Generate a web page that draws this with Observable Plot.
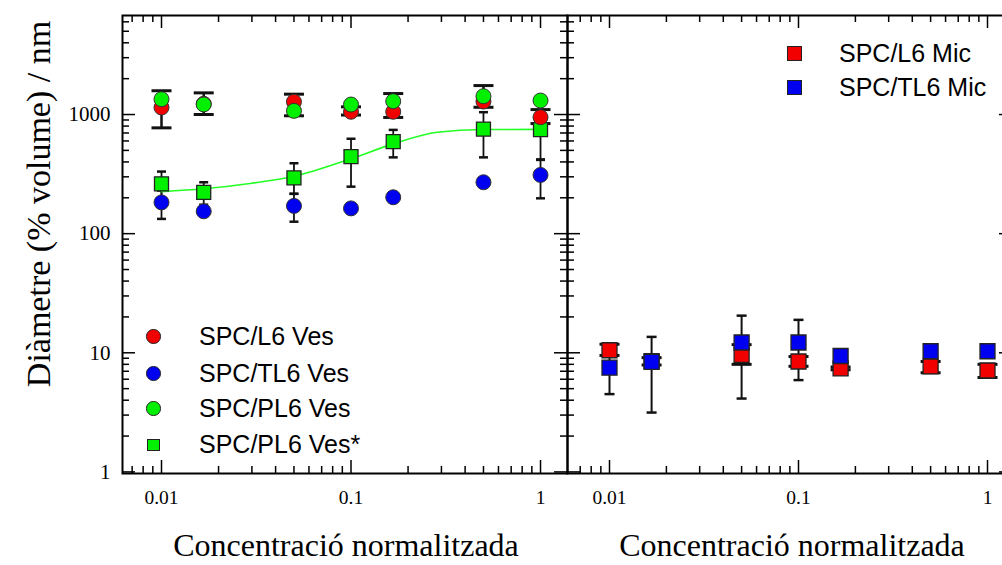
<!DOCTYPE html>
<html><head><meta charset="utf-8">
<script src="https://cdn.jsdelivr.net/npm/d3@7"></script>
<script src="https://cdn.jsdelivr.net/npm/@observablehq/plot@0.6"></script>
<style>
html,body{margin:0;padding:0;background:#fff;}
#wrap{position:relative;width:1002px;height:565px;overflow:hidden;}
#wrap svg{position:absolute;top:0;}
.leg{position:absolute;font-family:"Liberation Sans",Arial,sans-serif;font-size:25px;color:#000;white-space:nowrap;line-height:1;}
.sym{position:absolute;box-sizing:border-box;border:1.5px solid #222;}
.title{position:absolute;font-family:"Liberation Serif","Times New Roman",serif;color:#000;white-space:nowrap;line-height:1;}
</style></head><body><div id="wrap"></div>
<script>
// ---------- data ----------
const conc = [0.01, 0.0167, 0.05, 0.1, 0.167, 0.5, 1];

// left panel: vesicles
const l6VesY  = [1145, 1230, 1280, 1055, 1055, 1285, 950];
const l6VesLo = [773, null, 976, 990, 945, 1150, 840];
const l6VesHi = [1583, null, 1482, 1160, 1500, 1750, 1100];

const tl6VesY  = [183, 154, 171, 163, 202, 270, 311];
const tl6VesLo = [133, null, 126, null, null, null, 198];
const tl6VesHi = [230, null, 216, null, null, null, 420];

const pl6VesY  = [1345, 1215, 1074, 1213, 1294, 1425, 1311];
const pl6VesLo = [null, 1000, null, null, null, null, null];
const pl6VesHi = [null, 1520, null, null, null, null, null];

const pl6StarY  = [262, 222, 294, 444, 593, 755, 748];
const pl6StarLo = [190, 175, 216, 248, 437, 437, 416];
const pl6StarHi = [332, 270, 390, 626, 743, 1046, 1080];

const fitX = [0.01, 0.0167, 0.03, 0.05, 0.1, 0.167, 0.285, 0.5, 1];
const fitY = [225, 238, 265, 303, 425, 567, 710, 748, 750];

// right panel: micelles
const l6MicY  = [10.5, 8.5, 9.6, 8.45, 7.4, 7.7, 7.1];
const l6MicLo = [9.5, 7.9, 8.0, 7.7, 7.2, 6.8, 6.2];
const l6MicHi = [11.8, 9.1, 11.7, 9.3, 7.6, 8.45, 8.0];

const tl6MicY  = [7.5, 8.4, 12.2, 12.2, 9.4, 10.3, 10.3];
const tl6MicLo = [4.5, 3.15, 4.13, 5.9, null, null, null];
const tl6MicHi = [10.4, 13.6, 20.5, 18.9, null, null, null];

// ticks
const yMajor = [1, 10, 100, 1000];
const yMinor = [2,3,4,5,6,7,8,9,20,30,40,50,60,70,80,90,200,300,400,500,600,700,800,900,2000,3000,4000,5000,6000];
const xMajor = [0.01, 0.1, 1];
const xMinor = [0.007,0.008,0.009,0.02,0.03,0.04,0.05,0.06,0.07,0.08,0.09,0.2,0.3,0.4,0.5,0.6,0.7,0.8,0.9];
const yTickLabels = ["1", "10", "100", "1000"];
const xTickLabels = ["0.01", "0.1", "1"];

const legendLeft = ["SPC/L6 Ves", "SPC/TL6 Ves", "SPC/PL6 Ves", "SPC/PL6 Ves*"];
const legendRight = ["SPC/L6 Mic", "SPC/TL6 Mic"];
const xTitle = "Concentració normalitzada";
const yTitle = "Diàmetre (% volume) / nm";

// ---------- styling ----------
const RED = "#f20000", BLUE = "#0000f0", GREEN = "#00f000", LINEGREEN = "#22ff22";
const rows = (Y, LO, HI) => conc.map((x, i) => ({x, y: Y[i], lo: LO[i], hi: HI[i]}));
const capSym = {draw(ctx, size) { const w = Math.sqrt(size / Math.PI); ctx.moveTo(-w, 0); ctx.lineTo(w, 0); }};
const yLab = yMajor.map((v, i) => ({v, t: yTickLabels[i]}));
const xLab = xMajor.map((v, i) => ({v, t: xTickLabels[i]}));

function errMarks(data, capHalf, width, capWidth) {
  const d = data.filter(r => r.lo != null);
  return [
    Plot.ruleX(d, {x: "x", y1: "lo", y2: "hi", stroke: "#111", strokeWidth: width}),
    Plot.dot(d, {x: "x", y: "lo", symbol: capSym, r: capHalf, stroke: "#111", fill: "none", strokeWidth: capWidth}),
    Plot.dot(d, {x: "x", y: "hi", symbol: capSym, r: capHalf, stroke: "#111", fill: "none", strokeWidth: capWidth})
  ];
}

function tickMarks(W, H, sides) {
  const m = [];
  const st = {stroke: "#000", strokeWidth: 1.5};
  for (const [vals, len] of [[yMajor, 13], [yMinor, 7]]) {
    if (sides.left) m.push(Plot.tickY(vals, {y: d => d, insetRight: W - len, ...st}));
    if (sides.right) m.push(Plot.tickY(vals, {y: d => d, insetLeft: W - len, ...st}));
  }
  for (const [vals, len] of [[xMajor, 13], [xMinor, 7]]) {
    m.push(Plot.tickX(vals, {x: d => d, insetTop: H - len, ...st}));
    m.push(Plot.tickX(vals, {x: d => d, insetBottom: H - len, ...st}));
  }
  return m;
}

const H = 565, MT = 15, MB = 92;
const FH = H - MT - MB;
const yScale = {type: "log", domain: [0.97, 6780], axis: null};
const sty = {fontFamily: "'Liberation Serif','Times New Roman',serif", background: "transparent", overflow: "visible"};
const sq = s => s / Math.sqrt(Math.PI);
const serif = "'Liberation Serif','Times New Roman',serif";

// ---------- left panel ----------
const LW = 570, LML = 122, LMR = 3;
const left = Plot.plot({
  width: LW, height: H, marginLeft: LML, marginRight: LMR, marginTop: MT, marginBottom: MB,
  x: {type: "log", domain: [0.006226, 1.388], axis: null},
  y: yScale,
  style: sty,
  marks: [
    ...tickMarks(LW - LML - LMR, FH, {left: true, right: true}),
    Plot.text(yLab, {y: "v", text: "t", frameAnchor: "left", textAnchor: "end", dx: -12, fontSize: 21, fontFamily: serif, fill: "#000"}),
    Plot.text(xLab, {x: "v", text: "t", frameAnchor: "bottom", lineAnchor: "middle", dy: 24, fontSize: 19.5, fontFamily: serif, fill: "#000"}),
    ...errMarks(rows(tl6VesY, tl6VesLo, tl6VesHi), 4.5, 1.8, 2.5),
    ...errMarks(rows(pl6StarY, pl6StarLo, pl6StarHi), 4.5, 1.8, 2.5),
    ...errMarks(rows(l6VesY, l6VesLo, l6VesHi), 10, 2.5, 3),
    ...errMarks(rows(pl6VesY, pl6VesLo, pl6VesHi), 10, 2.5, 3),
    Plot.line(fitX.map((x, i) => ({x, y: fitY[i]})), {x: "x", y: "y", stroke: LINEGREEN, strokeWidth: 1.6, curve: "monotone-x"}),
    Plot.dot(rows(tl6VesY, tl6VesLo, tl6VesHi), {x: "x", y: "y", r: 7.5, fill: BLUE, stroke: "#333", strokeWidth: 1}),
    Plot.dot(rows(pl6StarY, pl6StarLo, pl6StarHi), {x: "x", y: "y", r: sq(14), symbol: "square", fill: GREEN, stroke: "#222", strokeWidth: 1.3}),
    Plot.dot(rows(l6VesY, l6VesLo, l6VesHi), {x: "x", y: "y", r: 7.5, fill: RED, stroke: "#333", strokeWidth: 1}),
    Plot.dot(rows(pl6VesY, pl6VesLo, pl6VesHi), {x: "x", y: "y", r: 7.5, fill: GREEN, stroke: "#333", strokeWidth: 1}),
    Plot.frame({stroke: "#000", strokeWidth: 2})
  ]
});
left.style.left = "0px";

// ---------- right panel ----------
const RW = 451, RML = 3, RMR = 3, RLEFT = 564;
const right = Plot.plot({
  width: RW, height: H, marginLeft: RML, marginRight: RMR, marginTop: MT, marginBottom: MB,
  x: {type: "log", domain: [0.005995, 1.356], axis: null},
  y: yScale,
  style: sty,
  marks: [
    ...tickMarks(RW - RML - RMR, FH, {left: true, right: true}),
    Plot.text(xLab, {x: "v", text: "t", frameAnchor: "bottom", lineAnchor: "middle", dy: 24, fontSize: 19.5, fontFamily: serif, fill: "#000"}),
    ...errMarks(rows(l6MicY, l6MicLo, l6MicHi), 10, 2.5, 3),
    ...errMarks(rows(tl6MicY, tl6MicLo, tl6MicHi), 5, 2, 2.5),
    Plot.dot(rows(l6MicY, l6MicLo, l6MicHi), {x: "x", y: "y", r: sq(15), symbol: "square", fill: RED, stroke: "#222", strokeWidth: 1.3}),
    Plot.dot(rows(tl6MicY, tl6MicLo, tl6MicHi), {x: "x", y: "y", r: sq(15), symbol: "square", fill: BLUE, stroke: "#222", strokeWidth: 1.3}),
    Plot.frame({stroke: "#000", strokeWidth: 2})
  ]
});
right.style.left = RLEFT + "px";

const wrap = document.getElementById("wrap");
wrap.appendChild(left);
wrap.appendChild(right);

// ---------- legends & titles (HTML overlay) ----------
function addSym(cx, cy, size, color, round) {
  const s = document.createElement("div");
  s.className = "sym";
  Object.assign(s.style, {left: (cx - size / 2) + "px", top: (cy - size / 2) + "px", width: size + "px", height: size + "px", background: color, borderRadius: round ? "50%" : "0"});
  wrap.appendChild(s);
}
function addText(x, baseline, txt) {
  const t = document.createElement("div");
  t.className = "leg";
  t.textContent = txt;
  t.style.left = x + "px";
  t.style.top = (baseline - 21.2) + "px";
  wrap.appendChild(t);
}
const legLeftColors = [RED, BLUE, GREEN, GREEN];
const legLeftRound = [true, true, true, false];
const legLeftY = [336.7, 373.3, 408.5, 445];
legendLeft.forEach((txt, i) => {
  addSym(153.3, legLeftY[i], legLeftRound[i] ? 14.5 : 12.5, legLeftColors[i], legLeftRound[i]);
  addText(199, legLeftY[i] + 8.5, txt);
});
const legRightColors = [RED, BLUE];
const legRightY = [53.3, 87.3];
legendRight.forEach((txt, i) => {
  addSym(794.3, legRightY[i], 15, legRightColors[i], false);
  addText(839, legRightY[i] + 9.2, txt);
});

function addTitle(cx, baseline, txt, size) {
  const t = document.createElement("div");
  t.className = "title";
  t.textContent = txt;
  t.style.fontSize = size + "px";
  wrap.appendChild(t);
  const w = t.getBoundingClientRect().width;
  t.style.left = (cx - w / 2) + "px";
  t.style.top = (baseline - size * 0.837) + "px";
}
addTitle(346, 556, xTitle, 32);
addTitle(792, 556, xTitle, 32);

const yt = document.createElement("div");
yt.className = "title";
yt.textContent = yTitle;
yt.style.fontSize = "34px";
wrap.appendChild(yt);
const yw = yt.getBoundingClientRect().width, yh = yt.getBoundingClientRect().height;
Object.assign(yt.style, {left: (39 - yw / 2) + "px", top: (204 - yh / 2) + "px", transform: "rotate(-90deg)", transformOrigin: "50% 50%"});
</script></body></html>
